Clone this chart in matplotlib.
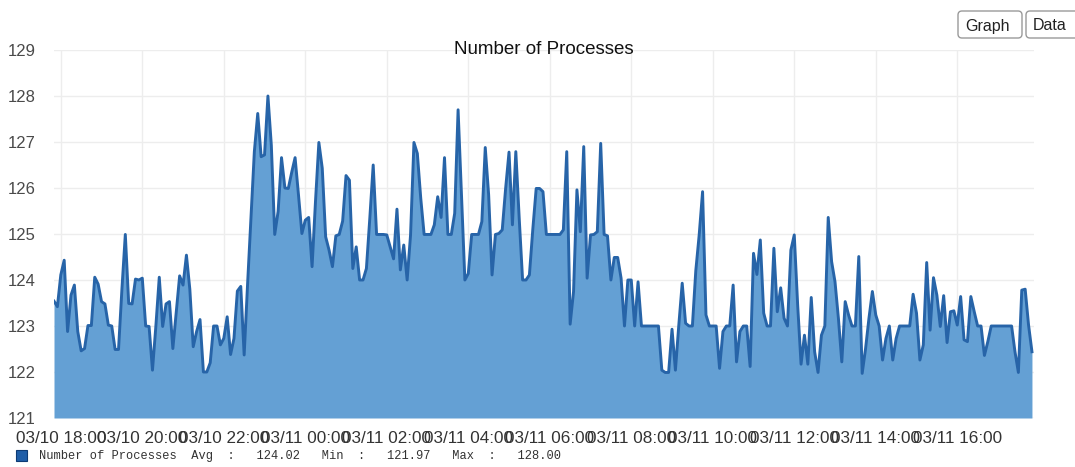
import matplotlib
matplotlib.use("Agg")
import matplotlib.pyplot as plt
from matplotlib.patches import FancyBboxPatch, Rectangle
from matplotlib.transforms import IdentityTransform
import pandas as pd

# ---------------- data ----------------
title = "Number of Processes"
start_time = "2021-03-10 17:50"
step_minutes = 5
values = [
    123.54, 123.42, 124.11, 124.43, 122.88, 123.67, 123.89, 122.88, 122.46, 122.51,
    123.01, 123.01, 124.06, 123.91, 123.53, 123.48, 123.02, 123.00, 122.49, 122.49,
    123.80, 124.99, 123.49, 123.48, 124.02, 124.00, 124.04, 123.00, 122.99, 122.04,
    123.00, 124.06, 122.99, 123.48, 123.53, 122.51, 123.30, 124.09, 123.89, 124.54,
    123.80, 122.55, 122.88, 123.14, 122.00, 122.00, 122.20, 123.00,
    123.00, 122.59, 122.73, 123.20, 122.38, 122.73, 123.76, 123.86, 122.37, 123.90,
    125.34, 126.79, 127.62, 126.68, 126.72, 128.00, 126.93, 124.99, 125.49, 126.66,
    126.00, 125.99, 126.34, 126.66, 125.85, 125.01, 125.30, 125.36, 124.29, 125.70,
    126.99, 126.43, 124.94, 124.65, 124.29, 124.96, 124.99, 125.28, 126.27, 126.17,
    124.25, 124.72, 124.00, 124.00, 124.25, 125.34, 126.50,
    124.99, 124.99, 124.99, 124.98, 124.72, 124.46, 125.54, 124.22, 124.76, 124.00,
    124.98, 126.99, 126.75, 125.78, 124.99, 124.99, 124.99, 125.20, 125.81, 125.36,
    126.66, 124.99, 124.99, 125.45, 127.70, 125.85, 124.00, 124.14, 124.99, 124.99,
    124.99, 125.27, 126.88, 125.85, 124.11, 124.99, 125.01, 125.09, 125.99, 126.78,
    125.20, 126.79, 125.34, 124.00, 124.00, 124.11,
    125.10, 125.99, 125.99, 125.92, 124.99, 124.99, 124.99, 124.99, 124.99, 125.09,
    126.79, 123.04, 123.75, 125.96, 125.05, 126.90, 124.04, 124.98, 124.99, 125.05,
    126.97, 124.99, 124.96, 124.00, 124.49, 124.49, 124.04, 123.00, 124.00, 124.00,
    123.00, 123.96, 123.00, 123.00, 123.00, 123.00, 123.00, 123.00, 122.04, 121.99,
    121.99, 122.93, 122.04, 123.02, 123.93, 123.06, 123.00, 123.00,
    124.20, 124.98, 125.92, 123.24, 123.00, 123.00, 123.00, 122.08, 122.88, 123.00,
    123.00, 123.89, 122.22, 122.88, 123.00, 123.00, 122.12, 124.58, 124.12, 124.87,
    123.28, 123.00, 123.00, 124.69, 123.31, 123.83, 123.17, 123.00, 124.65, 124.98,
    123.46, 122.17, 122.80, 122.17, 123.62, 122.44, 121.99, 122.80, 123.00, 125.36,
    124.40, 123.96, 123.17, 122.22, 123.53, 123.24, 123.00, 123.00,
    124.51, 121.97, 122.51, 123.17, 123.75, 123.24, 123.00, 122.26, 122.73, 123.00,
    122.26, 122.73, 123.00, 123.00, 123.00, 123.00, 123.69, 123.28, 122.26, 122.59,
    124.38, 122.91, 124.05, 123.67, 122.99, 123.66, 122.64, 123.31, 123.33, 123.02,
    123.64, 122.70, 122.66, 123.64, 123.31, 123.00, 123.00, 122.36, 122.66, 123.00,
    123.00, 123.00, 123.00, 123.00, 123.00, 123.00, 122.44, 121.99, 123.78, 123.80,
    123.02, 122.44,
]
tick_labels = ["03/10 18:00", "03/10 20:00", "03/10 22:00", "03/11 00:00",
               "03/11 02:00", "03/11 04:00", "03/11 06:00", "03/11 08:00",
               "03/11 10:00", "03/11 12:00", "03/11 14:00", "03/11 16:00"]
y_ticks = [121, 122, 123, 124, 125, 126, 127, 128, 129]
stats_labels = ["Avg", "Min", "Max"]
stats_values = ["124.02", "121.97", "128.00"]
tabs = ["Graph", "Data"]

# ---------------- figure ----------------
W, H = 1075, 467
fig = plt.figure(figsize=(W / 100, H / 100), dpi=100)
fig.patch.set_facecolor("white")

left, right, top, bottom = 54, 1034, 50, 418
ax = fig.add_axes([left / W, 1 - bottom / H, (right - left) / W, (bottom - top) / H])

times = pd.date_range(start_time, periods=len(values), freq=f"{step_minutes}min")
year = times[0].year
tick_pos = pd.to_datetime([f"{year}/{t}" for t in tick_labels], format="%Y/%m/%d %H:%M")

fill_color = "#64a0d4"
line_color = "#2764a8"
ax.fill_between(times, values, y_ticks[0], color=fill_color, lw=0, zorder=2)
ax.plot(times, values, color=line_color, lw=2.1, zorder=3)

ax.set_ylim(y_ticks[0], y_ticks[-1])
ax.set_yticks(y_ticks)
ax.set_xlim(times[0], times[0] + pd.Timedelta(minutes=1443))
ax.set_xticks(tick_pos)
ax.set_xticklabels(tick_labels)

ax.set_axisbelow(True)
ax.grid(True, color="#ededed", lw=1.0)
for s in ax.spines.values():
    s.set_visible(False)
ax.tick_params(length=0)
ax.tick_params(axis="y", pad=13.5, labelsize=12, labelcolor="#4a4a4a")
ax.tick_params(axis="x", pad=9.5, labelsize=12.3, labelcolor="#333333")
for lab in ax.get_xticklabels() + ax.get_yticklabels():
    lab.set_fontfamily("Liberation Sans")

fig.text((left + right) / 2 / W, 1 - 50 / H, title, ha="center", va="center",
         fontsize=13.5, family="Liberation Sans", color="#111111")

# tabs
idt = IdentityTransform()
tab_boxes = [(958, 1022), (1026, 1085)]
for name, (x0, x1) in zip(tabs, tab_boxes):
    p = FancyBboxPatch((x0, H - 38), x1 - x0, 27,
                       boxstyle="round,pad=0,rounding_size=4",
                       transform=idt, facecolor="white", edgecolor="#9a9a9a", lw=1.0)
    fig.add_artist(p)
    fig.text((x0 + 7) / W, 1 - 26 / H, name, ha="left", va="center",
             fontsize=11.5, family="Liberation Sans", color="#222222")

# legend
sq = Rectangle((16, H - 461), 11, 11, transform=idt, facecolor="#1f5ea8",
               edgecolor="#0d3b75", lw=0.8)
fig.add_artist(sq)
legend_str = (f"{title}  {stats_labels[0]}  :   {stats_values[0]}   "
              f"{stats_labels[1]}  :   {stats_values[1]}   "
              f"{stats_labels[2]}  :   {stats_values[2]}")
fig.text(39 / W, 1 - 456 / H, legend_str, ha="left", va="center",
         fontsize=8.65, family="Liberation Mono", color="#333333")

fig.savefig("out.png", dpi=100, facecolor="white")
